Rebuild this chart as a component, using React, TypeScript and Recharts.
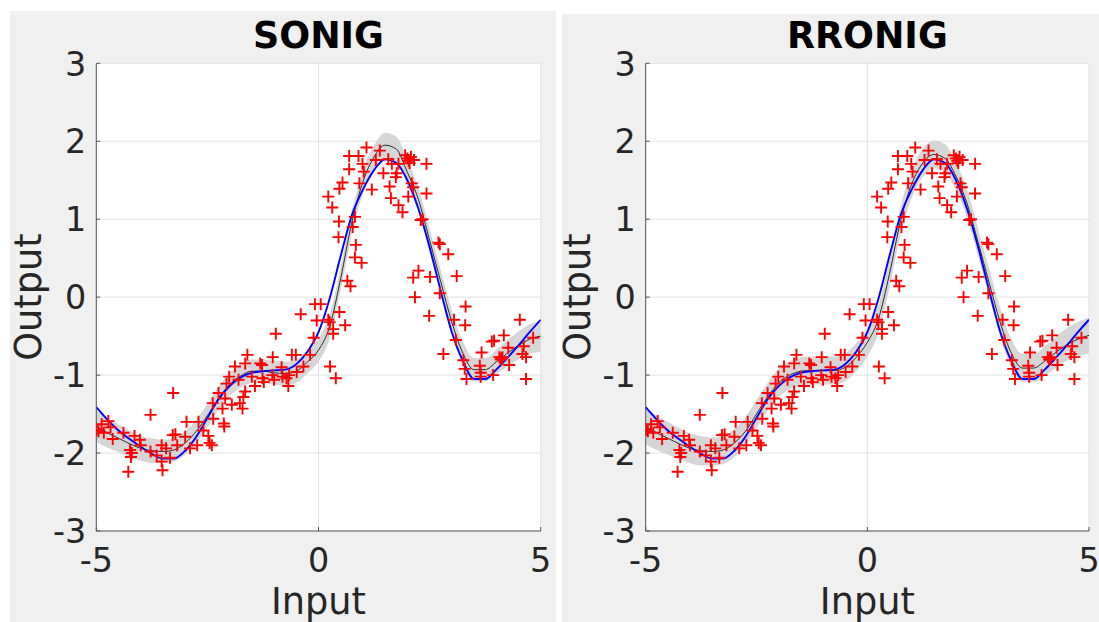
import React from "react";
import { ComposedChart, Area, Line, Scatter, XAxis, YAxis, CartesianGrid } from "recharts";

const curveX = [-5, -4.75, -4.5, -4.25, -4, -3.75, -3.5, -3.25, -3, -2.75, -2.5, -2.25, -2, -1.75, -1.5, -1.25, -1, -0.75, -0.5, -0.25, 0, 0.25, 0.5, 0.75, 1, 1.25, 1.5, 1.75, 2, 2.25, 2.5, 2.75, 3, 3.25, 3.5, 3.75, 4, 4.25, 4.5, 4.75, 5];
const trueY = [-1.41, -1.57, -1.71, -1.82, -1.92, -2.01, -2.07, -2.07, -1.97, -1.79, -1.55, -1.31, -1.14, -1.03, -0.97, -0.95, -0.94, -0.93, -0.86, -0.70, -0.45, -0.02, 0.53, 1.05, 1.38, 1.63, 1.77, 1.72, 1.50, 1.13, 0.64, 0.08, -0.45, -0.82, -1.05, -1.05, -0.93, -0.78, -0.62, -0.45, -0.29];
const sonigMean = [-1.66, -1.74, -1.81, -1.88, -1.94, -1.97, -1.98, -1.96, -1.87, -1.72, -1.52, -1.30, -1.12, -1.01, -0.95, -0.95, -0.97, -0.98, -0.95, -0.83, -0.68, -0.38, 0.24, 0.96, 1.48, 1.80, 1.95, 1.90, 1.60, 1.25, 0.73, 0.20, -0.32, -0.72, -0.93, -0.93, -0.83, -0.72, -0.62, -0.54, -0.50];
const sonigStd = [0.2, 0.19, 0.18, 0.17, 0.16, 0.16, 0.15, 0.15, 0.15, 0.15, 0.15, 0.15, 0.15, 0.15, 0.15, 0.15, 0.15, 0.15, 0.15, 0.15, 0.15, 0.15, 0.15, 0.15, 0.15, 0.15, 0.16, 0.16, 0.16, 0.15, 0.15, 0.15, 0.15, 0.15, 0.15, 0.15, 0.16, 0.17, 0.18, 0.19, 0.2];
const rronigMean = [-1.66, -1.74, -1.81, -1.88, -1.94, -1.97, -1.98, -1.96, -1.87, -1.72, -1.50, -1.28, -1.10, -1.00, -0.95, -0.94, -0.94, -0.94, -0.90, -0.77, -0.58, -0.28, 0.30, 0.98, 1.45, 1.72, 1.83, 1.78, 1.55, 1.20, 0.70, 0.18, -0.33, -0.72, -0.91, -0.91, -0.82, -0.71, -0.61, -0.54, -0.49];
const rronigStd = [0.23, 0.22, 0.21, 0.2, 0.19, 0.19, 0.18, 0.18, 0.18, 0.18, 0.18, 0.18, 0.18, 0.18, 0.18, 0.18, 0.18, 0.18, 0.18, 0.18, 0.18, 0.18, 0.18, 0.18, 0.18, 0.18, 0.18, 0.18, 0.18, 0.18, 0.18, 0.18, 0.18, 0.18, 0.18, 0.18, 0.19, 0.2, 0.21, 0.22, 0.23];

const pointX = [-4.99, -4.95, -4.88, -4.83, -4.73, -4.68, -4.63, -4.39, -4.28, -4.24, -4.22, -4.2, -4.14, -4.02, -4.0, -3.78, -3.78, -3.64, -3.53, -3.53, -3.51, -3.43, -3.34, -3.27, -3.28, -3.22, -3.18, -3.0, -2.97, -2.89, -2.73, -2.7, -2.59, -2.48, -2.45, -2.4, -2.37, -2.38, -2.25, -2.16, -2.13, -2.12, -2.1, -2.07, -2.01, -1.95, -1.88, -1.8, -1.77, -1.71, -1.69, -1.65, -1.65, -1.6, -1.5, -1.43, -1.31, -1.27, -1.26, -1.23, -1.03, -1.04, -1.0, -0.96, -0.83, -0.81, -0.72, -0.68, -0.6, -0.51, -0.66, -0.49, -0.34, -0.19, -0.11, -0.4, -0.08, 0.05, -0.04, 0.22, 0.25, 0.33, 0.33, 0.47, 0.6, 0.26, 0.39, 0.22, 0.31, 0.46, 0.45, 0.47, 0.54, 0.69, 0.9, 0.69, 0.77, 0.82, 0.84, 0.82, 0.97, 0.65, 0.72, 0.92, 0.99, 1.02, 1.08, 1.2, 1.38, 1.46, 1.29, 1.57, 1.65, 1.6, 1.63, 1.76, 1.74, 1.8, 1.89, 1.8, 1.95, 2.0, 2.03, 2.08, 2.15, 2.05, 2.1, 2.13, 2.02, 2.43, 2.43, 2.3, 2.34, 2.7, 2.73, 2.92, 3.11, 2.13, 2.25, 2.17, 2.51, 2.73, 2.49, 2.81, 3.05, 3.31, 3.3, 3.09, 3.26, 3.33, 3.29, 3.67, 3.63, 3.65, 3.65, 3.93, 3.9, 3.95, 4.17, 4.07, 4.1, 4.12, 4.27, 4.29, 4.53, 4.62, 4.59, 4.67, 4.83, 4.67, 4.14];
const pointY = [-1.7, -1.72, -1.63, -1.74, -1.59, -1.67, -1.82, -1.74, -2.24, -1.96, -2.05, -2.0, -1.78, -1.83, -1.9, -1.51, -1.98, -2.03, -1.9, -2.11, -2.22, -1.94, -2.06, -1.23, -1.77, -1.76, -1.9, -1.79, -1.6, -1.94, -1.9, -1.6, -1.71, -1.78, -1.87, -1.9, -1.56, -1.36, -1.23, -1.43, -1.62, -1.66, -1.3, -1.11, -1.02, -1.38, -0.89, -1.06, -1.36, -1.43, -1.28, -1.21, -0.85, -0.74, -1.02, -1.14, -0.85, -0.87, -1.04, -1.09, -0.77, -1.0, -1.06, -0.47, -0.9, -1.02, -1.04, -1.14, -0.74, -0.74, -1.0, -0.96, -0.89, -0.74, -0.52, -0.22, -0.09, -0.09, -0.3, -0.29, -0.32, -0.41, -0.47, -0.19, -0.36, -0.89, -1.04, 1.29, 1.15, 0.97, 0.77, 1.39, 1.47, 1.81, 1.81, 1.64, 0.9, 1.03, 0.67, 0.51, 0.44, 0.21, 0.14, 1.46, 1.71, 1.61, 1.92, 1.38, 1.88, 1.59, 1.76, 1.77, 1.71, 1.42, 1.27, 1.59, 1.54, 1.18, 1.09, 1.71, 1.82, 1.78, 1.75, 1.8, 1.76, 1.72, 1.46, 1.41, 1.29, 1.71, 1.33, 0.99, 1.0, 0.7, 0.68, 0.55, 0.27, 0.25, 0.34, 0.0, 0.26, 0.05, -0.24, -0.73, -0.29, -0.12, -0.36, -0.55, -0.81, -1.05, -0.92, -0.71, -0.88, -0.97, -1.02, -1.0, -0.57, -0.56, -0.49, -0.77, -0.8, -0.78, -0.65, -0.87, -0.29, -0.63, -0.73, -0.77, -0.52, -1.05, -0.77];

const xTicks = [-5, 0, 5];
const yTicks = [-3, -2, -1, 0, 1, 2, 3];
const titles = ["SONIG", "RRONIG"];
const xLabel = "Input";
const yLabel = "Output";

const FONT = "DejaVu Sans";

const points = pointX.map((x, i) => ({ x, y: pointY[i] }));

function buildRows(mean: number[], std: number[]) {
  return curveX.map((x, i) => ({
    x,
    truth: trueY[i],
    mean: mean[i],
    band: [mean[i] - std[i], mean[i] + std[i]],
  }));
}

const YTick = (props: any) => {
  const { x, y, payload } = props;
  return (
    <g>
      <line x1={x} x2={x + 4} y1={y} y2={y} stroke="#555" strokeWidth={1} />
      <text x={x - 10} y={y + 12.2} textAnchor="end" fontFamily={FONT} fontSize={33.4} fill="#262626">
        {payload.value}
      </text>
    </g>
  );
};

const XTick = (props: any) => {
  const { x, y, payload } = props;
  return (
    <g>
      <line x1={x} x2={x} y1={y} y2={y - 4} stroke="#555" strokeWidth={1} />
      <text x={x} y={y + 40.7} textAnchor="middle" fontFamily={FONT} fontSize={33.4} fill="#262626">
        {payload.value}
      </text>
    </g>
  );
};

const Plus = (props: any) => {
  const { cx, cy } = props;
  if (cx == null || cy == null) return null;
  return <path d={`M${cx - 6},${cy}h12M${cx},${cy - 6}v12`} stroke="#ff0000" strokeWidth={1.9} fill="none" />;
};

type PanelProps = {
  left: number; top: number; width: number; height: number;
  offL: number; offT: number; offR: number; offB: number;
  rows: any[];
};

function Panel({ left, top, width, height, offL, offT, offR, offB, rows }: PanelProps) {
  return (
    <div style={{ position: "absolute", left, top, width, height, background: "#f0f0f0" }}>
      <ComposedChart width={width} height={height} data={rows} margin={{ top: offT, right: offR, bottom: 0, left: 0 }}>
        <CartesianGrid fill="#ffffff" stroke="#e2e2e2" strokeWidth={1} />
        <XAxis
          type="number"
          dataKey="x"
          domain={[-5, 5]}
          ticks={xTicks}
          allowDataOverflow
          height={offB}
          tickSize={0}
          tickMargin={0}
          tickLine={false}
          axisLine={{ stroke: "#555", strokeWidth: 1 }}
          tick={<XTick />}
          interval={0}
        />
        <YAxis
          type="number"
          domain={[-3, 3]}
          ticks={yTicks}
          allowDataOverflow
          width={offL}
          tickSize={0}
          tickMargin={0}
          tickLine={false}
          axisLine={{ stroke: "#555", strokeWidth: 1 }}
          tick={<YTick />}
          interval={0}
        />
        <Area dataKey="band" type="monotone" stroke="none" fill="#d6d6d6" fillOpacity={1} isAnimationActive={false} />
        <Line dataKey="mean" type="monotone" stroke="#1a1a1a" strokeWidth={0.9} dot={false} isAnimationActive={false} />
        <Scatter data={points} dataKey="y" shape={<Plus />} isAnimationActive={false} />
        <Line dataKey="truth" type="monotone" stroke="#0000ff" strokeWidth={1.9} dot={false} isAnimationActive={false} />
      </ComposedChart>
    </div>
  );
}

export default function App() {
  const rowsL = buildRows(sonigMean, sonigStd);
  const rowsR = buildRows(rronigMean, rronigStd);
  const plotL = { l: 96.3, r: 540.7 };
  const plotR = { l: 645.7, r: 1089 };
  const cxL = (plotL.l + plotL.r) / 2;
  const cxR = (plotR.l + plotR.r) / 2;
  const cy = (63.3 + 531) / 2;
  return (
    <div style={{ position: "absolute", left: 0, top: 0, width: 1099, height: 622, background: "#ffffff", overflow: "hidden" }}>
      <Panel left={10} top={11} width={546} height={611} offL={86.3} offT={52.3} offR={15.3} offB={91} rows={rowsL} />
      <Panel left={562} top={14} width={537} height={608} offL={83.7} offT={49.3} offR={10} offB={91} rows={rowsR} />
      <svg width={1099} height={622} style={{ position: "absolute", left: 0, top: 0, pointerEvents: "none" }}>
        <text x={cxL} y={47.6} textAnchor="middle" fontFamily={FONT} fontWeight="bold" fontSize={36.4} fill="#000">{titles[0]}</text>
        <text x={cxR} y={47.6} textAnchor="middle" fontFamily={FONT} fontWeight="bold" fontSize={36.4} fill="#000">{titles[1]}</text>
        <text x={cxL} y={614} textAnchor="middle" fontFamily={FONT} fontSize={36.7} fill="#262626">{xLabel}</text>
        <text x={cxR} y={614} textAnchor="middle" fontFamily={FONT} fontSize={36.7} fill="#262626">{xLabel}</text>
        <text transform={`translate(${plotL.l - 55.5},${cy}) rotate(-90)`} textAnchor="middle" fontFamily={FONT} fontSize={36.7} fill="#262626">{yLabel}</text>
        <text transform={`translate(${plotR.l - 55.5},${cy}) rotate(-90)`} textAnchor="middle" fontFamily={FONT} fontSize={36.7} fill="#262626">{yLabel}</text>
      </svg>
    </div>
  );
}
